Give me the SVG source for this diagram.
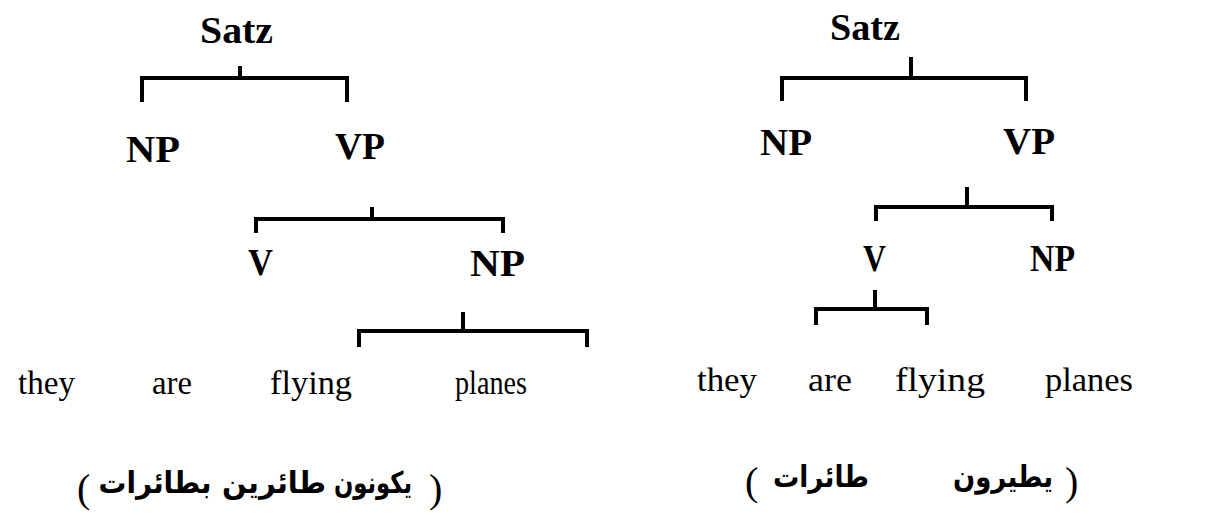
<svg xmlns="http://www.w3.org/2000/svg" width="1217" height="515" viewBox="0 0 1217 515">
<style>
.lbl{font-family:"Liberation Serif","Times New Roman",serif;font-weight:bold;font-size:38px;fill:#000}
.w{font-family:"Liberation Serif","Times New Roman",serif;font-size:33px;fill:#000}
.p{font-family:"Liberation Serif","Times New Roman",serif;font-size:40px;fill:#000}
.ar{font-family:"DejaVu Sans",sans-serif;font-weight:bold;font-size:30px;fill:#000}
.br{fill:none;stroke:#000;stroke-width:4;stroke-linecap:butt;stroke-linejoin:miter}
</style>
<rect width="1217" height="515" fill="#fff"/>
<g id="connectors">
  <path class="br" d="M142,102 V78 H347 V102"/>
  <path class="br" d="M240,66 V78"/>
  <path class="br" d="M256,233 V219 H503 V233"/>
  <path class="br" d="M372,207 V219"/>
  <path class="br" d="M359,347 V331 H587 V347"/>
  <path class="br" d="M463,312 V331"/>
  <path class="br" d="M782,101 V78 H1026 V101"/>
  <path class="br" d="M911,57 V78"/>
  <path class="br" d="M876,221 V207 H1052 V221"/>
  <path class="br" d="M967,187 V207"/>
  <path class="br" d="M816,325 V309 H927 V325"/>
  <path class="br" d="M875,290 V309"/>
</g>
<g id="L-satz"><text class="lbl" x="200" y="43" textLength="73" lengthAdjust="spacingAndGlyphs">Satz</text></g>
<g id="L-np"><text class="lbl" x="126" y="162" textLength="54" lengthAdjust="spacingAndGlyphs">NP</text></g>
<g id="L-vp"><text class="lbl" x="335" y="159" textLength="50" lengthAdjust="spacingAndGlyphs">VP</text></g>
<g id="L-v"><text class="lbl" x="248" y="275" textLength="25" lengthAdjust="spacingAndGlyphs">V</text></g>
<g id="L-np2"><text class="lbl" x="470" y="276" textLength="55" lengthAdjust="spacingAndGlyphs">NP</text></g>
<g id="L-they"><text class="w" x="18" y="394" textLength="57" lengthAdjust="spacingAndGlyphs">they</text></g>
<g id="L-are"><text class="w" x="152" y="394" textLength="40" lengthAdjust="spacingAndGlyphs">are</text></g>
<g id="L-flying"><text class="w" x="270" y="394" textLength="82" lengthAdjust="spacingAndGlyphs">flying</text></g>
<g id="L-planes"><text class="w" x="455" y="394" textLength="72" lengthAdjust="spacingAndGlyphs">planes</text></g>
<g id="L-arabic">
  <text class="p" x="77" y="502">(</text>
  <text class="ar" x="155" y="493" text-anchor="middle" textLength="113" lengthAdjust="spacingAndGlyphs">بطائرات</text>
  <text class="ar" x="274" y="493" text-anchor="middle" textLength="104" lengthAdjust="spacingAndGlyphs">طائرين</text>
  <text class="ar" x="373" y="493" text-anchor="middle" textLength="78" lengthAdjust="spacingAndGlyphs">يكونون</text>
  <text class="p" x="429" y="502">)</text>
</g>
<g id="R-satz"><text class="lbl" x="830" y="40" textLength="70" lengthAdjust="spacingAndGlyphs">Satz</text></g>
<g id="R-np"><text class="lbl" x="760" y="155" textLength="52" lengthAdjust="spacingAndGlyphs">NP</text></g>
<g id="R-vp"><text class="lbl" x="1003" y="154" textLength="52" lengthAdjust="spacingAndGlyphs">VP</text></g>
<g id="R-v"><text class="lbl" x="863" y="271" textLength="23" lengthAdjust="spacingAndGlyphs">V</text></g>
<g id="R-np2"><text class="lbl" x="1030" y="271" textLength="45" lengthAdjust="spacingAndGlyphs">NP</text></g>
<g id="R-they"><text class="w" x="697" y="391" textLength="60" lengthAdjust="spacingAndGlyphs">they</text></g>
<g id="R-are"><text class="w" x="808" y="391" textLength="44" lengthAdjust="spacingAndGlyphs">are</text></g>
<g id="R-flying"><text class="w" x="895" y="391" textLength="90" lengthAdjust="spacingAndGlyphs">flying</text></g>
<g id="R-planes"><text class="w" x="1045" y="391" textLength="88" lengthAdjust="spacingAndGlyphs">planes</text></g>
<g id="R-arabic">
  <text class="p" x="745" y="495">(</text>
  <text class="ar" x="821" y="487" text-anchor="middle" textLength="96" lengthAdjust="spacingAndGlyphs">طائرات</text>
  <text class="ar" x="1003" y="487" text-anchor="middle" textLength="100" lengthAdjust="spacingAndGlyphs">يطيرون</text>
  <text class="p" x="1065" y="495">)</text>
</g>
</svg>
